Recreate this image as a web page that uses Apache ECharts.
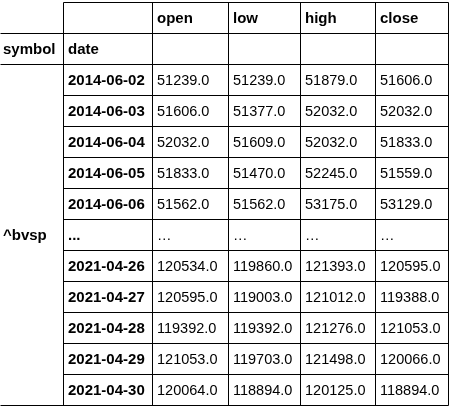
<!DOCTYPE html>
<html>
<head>
<meta charset="utf-8">
<script src="https://cdn.jsdelivr.net/npm/echarts@6/dist/echarts.min.js"></script>
<style>html,body{margin:0;padding:0;background:#fff}#c{width:449px;height:406px}</style>
</head>
<body>
<div id="c"></div>
<script>
// table content
var columns = ['open', 'low', 'high', 'close'];
var indexNames = ['symbol', 'date'];
var symbol = '^bvsp';
var dates = ['2014-06-02', '2014-06-03', '2014-06-04', '2014-06-05', '2014-06-06', '...',
  '2021-04-26', '2021-04-27', '2021-04-28', '2021-04-29', '2021-04-30'];
var openVals = ['51239.0', '51606.0', '52032.0', '51833.0', '51562.0', '...', '120534.0', '120595.0', '119392.0', '121053.0', '120064.0'];
var lowVals = ['51239.0', '51377.0', '51609.0', '51470.0', '51562.0', '...', '119860.0', '119003.0', '119392.0', '119703.0', '118894.0'];
var highVals = ['51879.0', '52032.0', '52032.0', '52245.0', '53175.0', '...', '121393.0', '121012.0', '121276.0', '121498.0', '120125.0'];
var closeVals = ['51606.0', '52032.0', '51833.0', '51559.0', '53129.0', '...', '120595.0', '119388.0', '121053.0', '120066.0', '118894.0'];

// layout (pixel space of the grid)
var colEdges = [0, 63, 152, 228, 300, 375, 448];
var rowEdges = [2, 33, 64];
for (var i = 1; i <= dates.length; i++) rowEdges.push(64 + 31 * i);

var cells = [];
columns.forEach(function (c, j) { cells.push([j + 2, 0, c, 'bold']); });
cells.push([0, 1, indexNames[0], 'bold']);
cells.push([1, 1, indexNames[1], 'bold']);
cells.push([0, 7, symbol, 'bold']);
var valueCols = [openVals, lowVals, highVals, closeVals];
dates.forEach(function (d, r) {
  cells.push([1, r + 2, d, 'bold']);
  valueCols.forEach(function (arr, j) {
    cells.push([j + 2, r + 2, d === '...' ? '…' : arr[r], 'normal']);
  });
});

var lines = [];
lines.push([63, 2, 448, 2]);
lines.push([0, 33, 448, 33]);
lines.push([0, 64, 448, 64]);
for (var k = 3; k < rowEdges.length - 1; k++) lines.push([63, rowEdges[k], 448, rowEdges[k]]);
lines.push([0, 405, 448, 405]);
for (var m = 1; m < colEdges.length; m++) lines.push([colEdges[m], 2, colEdges[m], 405]);

var chart = echarts.init(document.getElementById('c'));
chart.setOption({
  animation: false,
  grid: { left: 0, right: 0, top: 0, bottom: 0 },
  xAxis: { type: 'value', min: 0, max: 449, show: false },
  yAxis: { type: 'value', min: 0, max: 406, inverse: true, show: false },
  series: [
    {
      type: 'custom',
      data: lines,
      renderItem: function (params, api) {
        var a = api.coord([api.value(0), api.value(1)]);
        var b = api.coord([api.value(2), api.value(3)]);
        return {
          type: 'line',
          shape: { x1: Math.round(a[0]) + 0.5, y1: Math.round(a[1]) + 0.5, x2: Math.round(b[0]) + 0.5, y2: Math.round(b[1]) + 0.5 },
          style: { stroke: '#000', lineWidth: 1 }
        };
      }
    },
    {
      type: 'custom',
      data: cells.map(function (c) {
        return [colEdges[c[0]] + (c[0] === 0 ? 3 : 5), (rowEdges[c[1]] + rowEdges[c[1] + 1]) / 2, c[2], c[3]];
      }),
      renderItem: function (params, api) {
        var item = cells[params.dataIndex];
        var p = api.coord([api.value(0), api.value(1)]);
        var size = item[3] === 'bold' ? 15 : 14.5;
        return {
          type: 'text',
          x: p[0], y: p[1] + 1,
          style: {
            text: item[2],
            fill: '#000',
            font: item[3] + ' ' + size + 'px "Liberation Sans", Arial, sans-serif',
            textVerticalAlign: 'middle',
            textAlign: 'left'
          }
        };
      }
    }
  ]
});
</script>
</body>
</html>
